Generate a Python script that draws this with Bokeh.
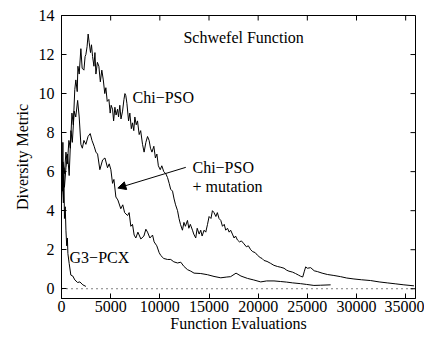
import math
from bokeh.plotting import figure
from bokeh.models import Range1d, FixedTicker, Span, Label, Arrow, NormalHead
from bokeh.embed import file_html
from bokeh.resources import INLINE

# Diversity of the swarm / population versus function evaluations
chi_pso_x = [0, 150, 300, 450, 600, 750, 900, 1060, 1200, 1350, 1460, 1600, 1670,
             1800, 1970, 2100, 2280, 2400, 2480, 2600, 2710, 2820, 2950, 3050, 3160,
             3300, 3400, 3500, 3650, 3800, 3950, 4100, 4250, 4400, 4510, 4650, 4820,
             4950, 5050, 5190, 5300, 5430, 5550, 5700, 5800, 5930, 6050, 6210, 6350,
             6450, 6540, 6650, 6820, 6950, 7100, 7220, 7350, 7460, 7600, 7730, 7900,
             8050, 8240, 8400, 8580, 8750, 8910, 9050, 9200, 9390, 9550, 9700, 9850,
             10040, 10200, 10400, 10600, 10780, 10950, 11100, 11290, 11450, 11600,
             11800, 11950, 12100, 12300, 12450, 12600, 12810, 12950, 13100, 13320,
             13450, 13650, 13800, 14000, 14160, 14300, 14500, 14670, 14850, 15010,
             15200, 15350, 15510, 15700, 15850, 16020, 16200, 16370, 16550, 16700,
             16880, 17050, 17200, 17380, 17550, 17700, 17890, 18100, 18300, 18560,
             18800, 19000, 19240, 19450, 19700, 19920, 20200, 20400, 20590, 20900,
             21270, 21600, 21960, 22300, 22630, 22900, 23130, 23500, 23800, 24100,
             24320, 24530, 24700, 24830, 25000, 25340, 25700, 26020, 26500, 27040,
             27700, 28380, 29000, 29740, 30500, 31430, 32300, 33130, 34000, 34820,
             35840]
chi_pso_y = [4.8, 6.5, 5.9, 7.0, 6.4, 7.6, 7.2, 9.0, 8.4, 10.2, 10.7, 10.1, 11.4,
             11.0, 12.3, 11.3, 11.2, 11.9, 12.0, 12.4, 13.05, 12.6, 12.1, 12.5, 11.9,
             11.4, 12.1, 11.0, 11.6, 11.4, 10.6, 11.2, 10.7, 10.0, 10.3, 9.6, 9.7,
             9.0, 9.4, 9.2, 8.6, 9.3, 8.9, 9.2, 8.8, 9.4, 8.7, 9.1, 9.7,
             10.0, 9.9, 9.5, 8.6, 9.0, 8.2, 8.5, 8.1, 8.8, 8.4, 8.6, 7.9,
             8.1, 7.4, 7.0, 7.5, 7.8, 7.6, 7.2, 7.0, 7.3, 6.7, 6.9, 6.3,
             6.1, 6.3, 6.0, 5.9, 5.7, 5.4, 5.1, 5.0, 4.6, 4.3,
             4.0, 3.6, 3.3, 3.0, 3.4, 3.2, 3.5, 3.1, 3.3, 3.0,
             2.8, 2.6, 3.1, 2.8, 3.0, 2.7, 3.0, 2.9, 3.3, 3.7,
             3.6, 4.0, 3.9, 3.7, 3.9, 3.6, 3.5, 3.2, 3.3, 3.0,
             3.1, 2.9, 3.0, 2.8, 2.6, 2.7, 2.5, 2.4, 2.45, 2.3,
             2.15, 2.2, 2.0, 1.9, 1.85, 1.72, 1.6, 1.55, 1.45, 1.4,
             1.3, 1.2, 1.14, 1.1, 1.05, 0.95, 0.9, 0.85, 0.78, 0.7,
             0.64, 0.6, 0.9, 1.12, 1.05, 1.08, 0.92, 0.88, 0.8, 0.73,
             0.68, 0.62, 0.55, 0.5, 0.46, 0.42, 0.35, 0.3, 0.25, 0.2,
             0.15]

mut_x = [0, 150, 300, 450, 620, 780, 960, 1100, 1290, 1450, 1640, 1800, 1970, 2120,
         2280, 2480, 2700, 2920, 3100, 3320, 3500, 3670, 3900, 4180, 4420, 4680,
         4850, 5020, 5190, 5330, 5530, 5730, 6030, 6230, 6420, 6720, 6880, 7050,
         7220, 7390, 7560, 7770, 8070, 8380, 8580, 8750, 8990, 9260, 9420, 9690,
         9930, 10100, 10400, 10780, 11110, 11420, 11800, 12130, 12440, 12810,
         13150, 13480, 14160, 14840, 15510, 16200, 16810, 17200, 17750, 18250,
         18910, 19550, 20260, 20860, 21610, 22290, 22900, 23510, 24320, 24930,
         25670, 26350, 27370]
mut_y = [4.5, 5.8, 5.2, 6.2, 6.9, 5.8, 8.1, 7.5, 9.1, 8.8, 9.65, 8.8, 7.4, 7.2,
         7.6, 7.4, 7.8, 7.95, 7.6, 7.3, 7.0, 6.9, 6.1, 6.6, 6.7, 6.2,
         6.4, 6.1, 5.4, 5.6, 4.7, 4.55, 4.1, 4.3, 3.9, 3.75, 3.9, 3.2,
         3.3, 2.75, 2.6, 2.9, 2.55, 2.7, 3.05, 2.9, 2.6, 2.75, 2.4, 2.2,
         1.85, 1.7, 1.55, 1.5, 1.5, 1.38, 1.32, 1.36, 1.15, 0.98,
         0.9, 0.8, 0.78, 0.72, 0.63, 0.56, 0.6, 0.62, 0.8, 0.65,
         0.53, 0.45, 0.35, 0.4, 0.4, 0.37, 0.34, 0.3, 0.26, 0.22,
         0.17, 0.18, 0.2]

g3_x = [0, 90, 140, 190, 240, 300, 380, 450, 530, 600, 650, 780, 950, 1150, 1360,
        1640, 1870, 2170, 2480]
g3_y = [8.1, 5.0, 7.5, 4.4, 6.2, 3.6, 4.2, 3.0, 2.2, 2.6, 1.8, 1.3, 0.7, 0.65, 0.45,
        0.32, 0.35, 0.2, 0.12]

x_ticks = [0, 5000, 10000, 15000, 20000, 25000, 30000, 35000]
y_ticks = [0, 2, 4, 6, 8, 10, 12, 14]
x_lo, x_hi = 0, 36000
y_lo, y_hi = -0.5, 14

FONT = "Liberation Serif"
SIZE = "16px"

p = figure(width=424, height=338, x_range=Range1d(x_lo, x_hi),
           y_range=Range1d(y_lo, y_hi), output_backend="svg",
           toolbar_location=None, min_border_left=61, min_border_right=9,
           min_border_top=15, min_border_bottom=40)
p.background_fill_color = "white"
p.border_fill_color = "white"
p.outline_line_color = "black"
p.outline_line_width = 1
p.xgrid.visible = False
p.ygrid.visible = False

for ax, ticks in ((p.xaxis[0], x_ticks), (p.yaxis[0], y_ticks)):
    ax.ticker = FixedTicker(ticks=ticks)
    ax.major_tick_in = 5
    ax.major_tick_out = 0
    ax.minor_tick_line_color = None
    ax.axis_line_color = "black"
    ax.major_label_text_font = FONT
    ax.major_label_text_font_size = SIZE
    ax.major_label_text_color = "black"
    ax.axis_label_text_font = FONT
    ax.axis_label_text_font_size = SIZE
    ax.axis_label_text_font_style = "normal"
    ax.axis_label_text_color = "black"

p.xaxis.axis_label = "Function Evaluations"
p.yaxis.axis_label = "Diversity Metric"
p.xaxis.major_label_standoff = 2
p.xaxis.axis_label_standoff = 0
p.yaxis.major_label_standoff = 7
p.yaxis.axis_label_standoff = 5

# mirrored tick marks along the top and right edges of the frame
p.ray(x=x_ticks, y=[y_hi] * len(x_ticks), length=5, length_units="screen",
      angle=-math.pi / 2, line_color="black", line_width=1)
p.ray(x=[x_hi] * len(y_ticks), y=y_ticks, length=5, length_units="screen",
      angle=math.pi, line_color="black", line_width=1)

p.add_layout(Span(location=0, dimension="width", line_color="black",
                  line_width=1, line_dash="1 4"))

p.line(chi_pso_x, chi_pso_y, line_color="black", line_width=1)
p.line(mut_x, mut_y, line_color="black", line_width=1)
p.line(g3_x, g3_y, line_color="black", line_width=1)

def label(x, y, text):
    p.add_layout(Label(x=x, y=y, text=text, text_font=FONT, text_font_size=SIZE,
                       text_color="black", text_baseline="middle"))

label(12400, 12.88, "Schwefel Function")
label(7224, 9.81, "Chi\u2212PSO")
label(13320, 6.21, "Chi\u2212PSO")
label(13320, 5.26, "+ mutation")
label(820, 1.58, "G3\u2212PCX")

p.add_layout(Arrow(end=NormalHead(size=8, fill_color="black", line_color="black",
                                  line_width=1),
                   x_start=12640, y_start=6.22, x_end=5730, y_end=5.16,
                   line_color="black", line_width=1))

open("out.html", "w").write(file_html(p, INLINE))
